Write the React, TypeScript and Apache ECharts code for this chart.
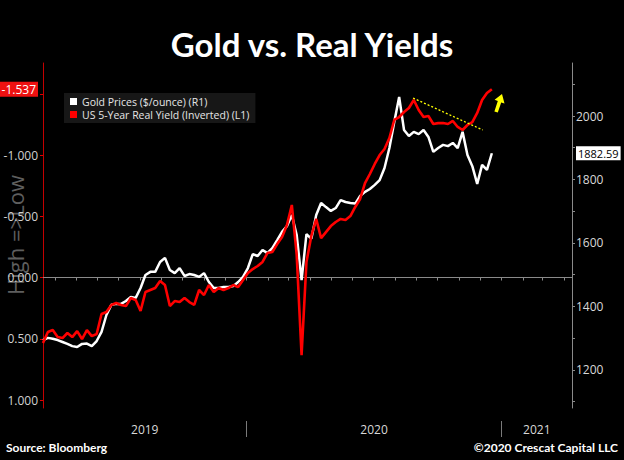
import React, { useEffect, useRef } from "react";
import * as echarts from "echarts";

// Weekly observations (Fridays) starting 2019-03-15
const START_DATE = Date.UTC(2019, 2, 15);
const WEEK_MS = 7 * 24 * 3600 * 1000;

const GOLD_PRICES = [
  1294, 1301, 1298, 1294, 1288, 1282, 1275, 1272, 1282, 1283,
  1275, 1291, 1320, 1373, 1405, 1408, 1408, 1417, 1430, 1427,
  1458, 1499, 1509, 1509, 1540, 1553, 1515, 1505, 1521, 1496,
  1502, 1499, 1493, 1505, 1477, 1458, 1458, 1461, 1461, 1464,
  1477, 1493, 1521, 1565, 1559, 1578, 1568, 1584, 1609, 1635,
  1653, 1688, 1625, 1483, 1628, 1613, 1688, 1726, 1713, 1701,
  1710, 1735, 1729, 1726, 1724, 1748, 1761, 1770, 1783, 1798,
  1836, 1899, 1981, 2060, 1956, 1937, 1950, 1943, 1956, 1934,
  1887, 1899, 1909, 1905, 1915, 1899, 1950, 1877, 1842, 1786,
  1846, 1830, 1882.59,
];

const REAL_YIELD_5Y = [
  0.535, 0.445, 0.429, 0.486, 0.494, 0.453, 0.486, 0.437, 0.502, 0.429,
  0.478, 0.461, 0.298, 0.282, 0.224, 0.208, 0.224, 0.233, 0.167, 0.184,
  0.273, 0.118, 0.102, 0.086, 0.029, 0.061, 0.233, 0.192, 0.2, 0.167,
  0.2, 0.224, 0.102, 0.143, 0.061, 0.118, 0.086, 0.102, 0.086, 0.061,
  0.078, 0.02, -0.037, -0.069, -0.094, -0.127, -0.2, -0.208, -0.273, -0.331,
  -0.429, -0.592, -0.184, 0.633, -0.127, -0.339, -0.478, -0.322, -0.371, -0.42,
  -0.453, -0.478, -0.47, -0.502, -0.576, -0.641, -0.771, -0.845, -0.927, -1.0,
  -1.049, -1.139, -1.286, -1.31, -1.351, -1.384, -1.449, -1.367, -1.31, -1.318,
  -1.253, -1.26, -1.261, -1.253, -1.278, -1.229, -1.204, -1.245, -1.269, -1.343,
  -1.449, -1.506, -1.537,
];

const X_MIN = Date.UTC(2019, 2, 15);
const X_MAX = Date.UTC(2021, 3, 12);
const YEAR_STARTS = [Date.UTC(2020, 0, 1), Date.UTC(2021, 0, 1)];

const LEFT_MIN = -1.751;
const LEFT_MAX = 1.065;
const LEFT_TICKS = [-1.5, -1.0, -0.5, 0.0, 0.5, 1.0];
const LEFT_LABELS = [-1.0, -0.5, 0.0, 0.5, 1.0];

const RIGHT_MIN = 1080;
const RIGHT_MAX = 2167;
const RIGHT_TICKS = [1100, 1200, 1300, 1400, 1500, 1600, 1700, 1800, 1900, 2000, 2100];
const RIGHT_LABELS = [1200, 1400, 1600, 1800, 2000];

const TREND_LINE = [
  [Date.UTC(2020, 7, 27), -1.465],
  [Date.UTC(2020, 11, 5), -1.204],
];

const GOLD_NAME = "Gold Prices ($/ounce) (R1)";
const YIELD_NAME = "US 5-Year Real Yield (Inverted) (L1)";

export default function App() {
  const ref = useRef<HTMLDivElement>(null);

  useEffect(() => {
    document.body.style.margin = "0";
    document.body.style.background = "#000";
    if (!ref.current) return;
    const chart = echarts.init(ref.current, null, { renderer: "svg" });

    const lastGold = GOLD_PRICES[GOLD_PRICES.length - 1];
    const lastYield = REAL_YIELD_5Y[REAL_YIELD_5Y.length - 1];

    const goldData = GOLD_PRICES.map((v, i) => [START_DATE + i * WEEK_MS, v]);
    const yieldData = REAL_YIELD_5Y.map((v, i) => [START_DATE + i * WEEK_MS, v]);

    const monthTicks: number[] = [];
    for (let y = 2019; y <= 2021; y++) {
      for (let m = 0; m < 12; m++) {
        const t = Date.UTC(y, m, 1);
        if (t > X_MIN && t < X_MAX) monthTicks.push(t);
      }
    }
    const bounds = [X_MIN, ...YEAR_STARTS, X_MAX];
    const yearLabelPos = bounds.slice(0, -1).map((b, i) => (b + bounds[i + 1]) / 2);

    const labelFont = "Open Sans";

    chart.setOption({
      animation: false,
      backgroundColor: "#000",
      title: {
        text: "Gold vs. Real Yields",
        left: "center",
        top: 22,
        textStyle: {
          color: "#ffffff",
          fontSize: 33,
          fontWeight: "bold",
          fontFamily: "Lato",
        },
      },
      legend: {
        orient: "vertical",
        left: 64,
        top: 93,
        padding: [3, 6, 3, 6],
        itemGap: 2,
        itemWidth: 7,
        itemHeight: 7,
        icon: "rect",
        backgroundColor: "#171717",
        textStyle: { color: "#e6e6e6", fontSize: 10.5, fontFamily: labelFont, lineHeight: 11 },
        data: [
          { name: GOLD_NAME, itemStyle: { color: "#ffffff" } },
          { name: YIELD_NAME, itemStyle: { color: "#ff0000" } },
        ],
      },
      grid: { left: 43, right: 52, top: 63, bottom: 52, containLabel: false, outerBoundsMode: "none" },
      xAxis: [
        {
          type: "value",
          min: X_MIN,
          max: X_MAX,
          position: "bottom",
          axisLine: { show: true, lineStyle: { color: "#8a8a8a", width: 1 } },
          axisTick: { show: true, customValues: monthTicks, length: 3, lineStyle: { color: "#8a8a8a" } },
          axisLabel: {
            show: true,
            customValues: yearLabelPos,
            margin: 15,
            color: "#d8d8d8",
            fontSize: 12,
            fontFamily: labelFont,
            formatter: (v: number) => String(new Date(v).getUTCFullYear()),
          },
          splitLine: { show: false },
        },
        {
          type: "value",
          min: X_MIN,
          max: X_MAX,
          position: "bottom",
          offset: 13,
          axisLine: { show: false },
          axisTick: { show: true, customValues: YEAR_STARTS, length: 16, lineStyle: { color: "#7a7a7a", width: 1 } },
          axisLabel: { show: false },
          splitLine: { show: false },
        },
      ],
      yAxis: [
        {
          type: "value",
          position: "left",
          inverse: true,
          min: LEFT_MIN,
          max: LEFT_MAX,
          axisLine: { show: true, lineStyle: { color: "#c40000", width: 1 } },
          axisTick: { show: true, customValues: LEFT_TICKS, length: 3, lineStyle: { color: "#e00000" } },
          axisLabel: {
            show: true,
            customValues: [...LEFT_LABELS, lastYield],
            margin: 5,
            color: "#d0d0d0",
            fontSize: 12,
            fontFamily: labelFont,
            formatter: (v: number) =>
              Math.abs(v - lastYield) < 1e-9 ? `{tag|${v.toFixed(3)}}` : v.toFixed(3),
            rich: {
              tag: {
                backgroundColor: "#ee1111",
                color: "#ffffff",
                fontSize: 12,
                fontFamily: labelFont,
                padding: [2, 2, 1, 4],
              },
            },
          },
          splitLine: { show: false },
        },
        {
          type: "value",
          position: "right",
          min: RIGHT_MIN,
          max: RIGHT_MAX,
          axisLine: { show: true, lineStyle: { color: "#8a8a8a", width: 1 } },
          axisTick: { show: true, customValues: RIGHT_TICKS, length: 3, lineStyle: { color: "#8a8a8a" } },
          axisLabel: {
            show: true,
            customValues: [...RIGHT_LABELS, lastGold],
            margin: 4,
            color: "#d8d8d8",
            fontSize: 12,
            fontFamily: labelFont,
            formatter: (v: number) =>
              Math.abs(v - lastGold) < 1e-9 ? `{tag|${v.toFixed(2)}}` : String(v),
            rich: {
              tag: {
                backgroundColor: "#ffffff",
                color: "#000000",
                fontSize: 11,
                fontFamily: labelFont,
                padding: [2, 2, 1, 2],
              },
            },
          },
          splitLine: { show: false },
        },
      ],
      series: [
        {
          name: GOLD_NAME,
          type: "line",
          xAxisIndex: 0,
          yAxisIndex: 1,
          data: goldData,
          symbol: "none",
          showSymbol: false,
          lineStyle: { color: "#ffffff", width: 2.5 },
          itemStyle: { color: "#ffffff" },
          z: 2,
        },
        {
          name: YIELD_NAME,
          type: "line",
          xAxisIndex: 0,
          yAxisIndex: 0,
          data: yieldData,
          symbol: "none",
          showSymbol: false,
          lineStyle: { color: "#ff0000", width: 2.6 },
          itemStyle: { color: "#ff0000" },
          z: 3,
          markLine: {
            silent: true,
            symbol: ["none", "none"],
            label: { show: false },
            lineStyle: { color: "#ffff00", type: [2, 2], width: 1.3 },
            data: [[{ coord: TREND_LINE[0] }, { coord: TREND_LINE[1] }]],
          },
        },
      ],
      graphic: [
        {
          type: "text",
          x: 15,
          y: 235,
          rotation: Math.PI / 2,
          style: {
            text: "High =>Low",
            fill: "#5e5e5e",
            font: "22px 'Open Sans'",
            textAlign: "center",
            textVerticalAlign: "middle",
          },
          z: 0,
        },
        {
          type: "polygon",
          shape: {
            points: [
              [502, 94],
              [504.5, 103.5],
              [501.2, 102.4],
              [497.8, 112.6],
              [494.4, 111.4],
              [497.8, 101.0],
              [494.6, 99.8],
            ],
          },
          style: { fill: "#ffff00" },
          z: 10,
        },
        {
          type: "text",
          left: 6,
          top: 441,
          style: { text: "Source: Bloomberg", fill: "#ffffff", font: "bold 12px Lato" },
        },
        {
          type: "text",
          right: 6,
          top: 441,
          style: { text: "\u00A92020 Crescat Capital LLC", fill: "#ffffff", font: "bold 12px Lato" },
        },
      ],
    });

    return () => chart.dispose();
  }, []);

  return <div ref={ref} style={{ width: 624, height: 460 }} />;
}
